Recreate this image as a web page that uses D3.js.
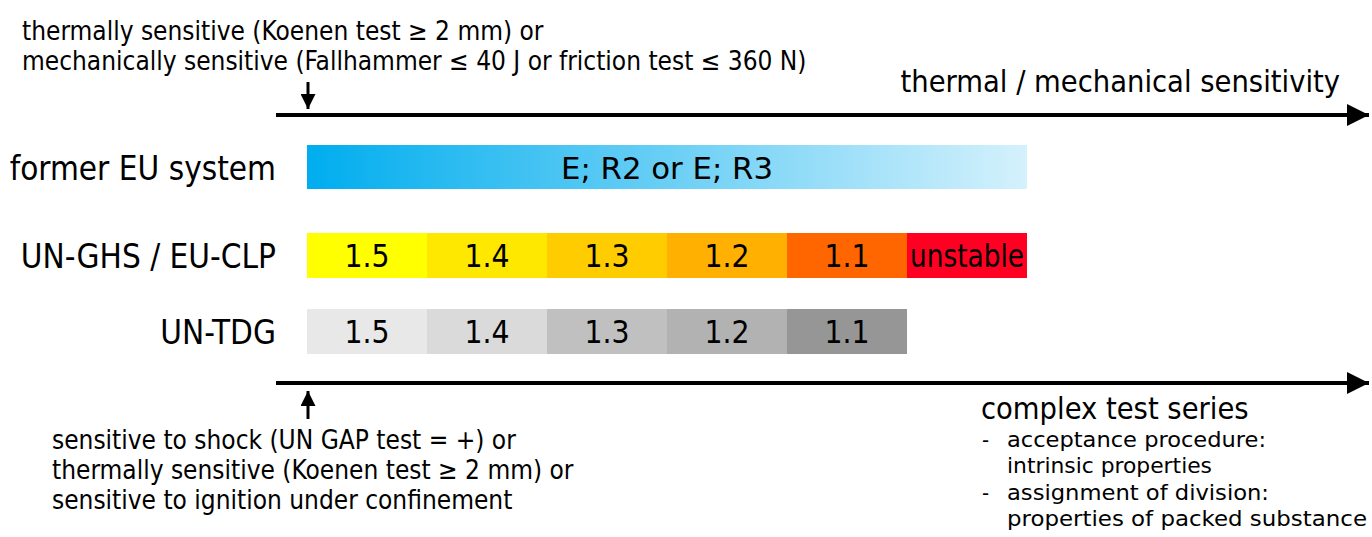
<!DOCTYPE html>
<html>
<head>
<meta charset="utf-8">
<script src="https://cdn.jsdelivr.net/npm/d3@7"></script>
<style>
  body { margin: 0; background: #fff; }
  svg { display: block; font-family: "DejaVu Sans Condensed", "DejaVu Sans", sans-serif; }
</style>
</head>
<body>
<div id="chart"></div>
<script>
// rows of the classification scheme
const rows = ['former EU system', 'UN-GHS / EU-CLP', 'UN-TDG'];

// former EU system: one band over the whole range
const euLabel = 'E; R2 or E; R3';
const euSpan = [0, 6];
const euColors = ['#00adee', '#d4f1fc'];

// UN-GHS / EU-CLP divisions
const ghsLabels = ['1.5', '1.4', '1.3', '1.2', '1.1', 'unstable'];
const ghsColors = ['#ffff00', '#ffe800', '#ffcc00', '#ffb000', '#ff6600', '#ff0022'];

// UN-TDG divisions
const tdgLabels = ['1.5', '1.4', '1.3', '1.2', '1.1'];
const tdgColors = ['#e8e8e8', '#dadada', '#c0c0c0', '#b2b2b2', '#969696'];

const topNote = [
  'thermally sensitive (Koenen test \u2265 2 mm) or',
  'mechanically sensitive (Fallhammer \u2264 40 J or friction test \u2264 360 N)'
];
const bottomNote = [
  'sensitive to shock (UN GAP test = +) or',
  'thermally sensitive (Koenen test \u2265 2 mm) or',
  'sensitive to ignition under confinement'
];
const complexTitle = 'complex test series';
const complexItems = [
  ['acceptance procedure:', 'intrinsic properties'],
  ['assignment of division:', 'properties of packed substance']
];
// widths the item lines take in the original (Tahoma) layout
const complexWidths = [[259, 205], [262, 360]];
const topAxisTitle = 'thermal / mechanical sensitivity';

const width = 1372, height = 537;

const svg = d3.select('#chart').append('svg')
    .attr('width', width)
    .attr('height', height);

const x = d3.scaleLinear().domain([0, 6]).range([307, 1027]);
const y = d3.scaleOrdinal().domain(rows).range([145, 233, 309]);
const bandH = 45;

const defs = svg.append('defs');
// big arrow head
defs.append('marker')
    .attr('id', 'head')
    .attr('viewBox', '0 0 10 10')
    .attr('refX', 10).attr('refY', 5)
    .attr('markerWidth', 5.5).attr('markerHeight', 5.5)
    .attr('markerUnits', 'strokeWidth')
    .attr('orient', 'auto')
  .append('path')
    .attr('d', 'M0,0 L10,5 L0,10 Z')
    .attr('fill', '#000');
// small arrow head
defs.append('marker')
    .attr('id', 'head-sm')
    .attr('viewBox', '0 0 10 10')
    .attr('refX', 10).attr('refY', 5)
    .attr('markerWidth', 15).attr('markerHeight', 15)
    .attr('markerUnits', 'userSpaceOnUse')
    .attr('orient', 'auto')
  .append('path')
    .attr('d', 'M0,0 L10,5 L0,10 Z')
    .attr('fill', '#000');

const grad = defs.append('linearGradient')
    .attr('id', 'eu-grad')
    .attr('x1', '0%').attr('x2', '100%');
grad.append('stop').attr('offset', '0%').attr('stop-color', euColors[0]);
grad.append('stop').attr('offset', '100%').attr('stop-color', euColors[1]);

// axes
const axes = svg.append('g').attr('class', 'axes');
[115, 383].forEach(yy => {
  axes.append('line')
      .attr('x1', 276).attr('x2', 1369)
      .attr('y1', yy).attr('y2', yy)
      .attr('stroke', '#000')
      .attr('stroke-width', 4)
      .attr('marker-end', 'url(#head)');
});

// small arrows marking the start of the range
const small = svg.append('g').attr('class', 'small-arrows');
small.append('line')
    .attr('x1', x(0) + 1).attr('x2', x(0) + 1)
    .attr('y1', 82).attr('y2', 109)
    .attr('stroke', '#000').attr('stroke-width', 3)
    .attr('marker-end', 'url(#head-sm)');
small.append('line')
    .attr('x1', x(0) + 1).attr('x2', x(0) + 1)
    .attr('y1', 419).attr('y2', 391)
    .attr('stroke', '#000').attr('stroke-width', 3)
    .attr('marker-end', 'url(#head-sm)');

// row labels
svg.append('g').attr('class', 'row-labels')
  .selectAll('text')
  .data(rows)
  .join('text')
    .attr('x', 276)
    .attr('y', d => y(d) + bandH / 2 + 12)
    .attr('text-anchor', 'end')
    .attr('font-size', 33)
    .attr('fill', '#000')
    .text(d => d);

// former EU band
const eu = svg.append('g').attr('class', 'eu');
eu.append('rect')
    .attr('x', x(euSpan[0]))
    .attr('y', y(rows[0]))
    .attr('width', x(euSpan[1]) - x(euSpan[0]))
    .attr('height', bandH - 1)
    .attr('fill', 'url(#eu-grad)');
eu.append('text')
    .attr('x', (x(euSpan[0]) + x(euSpan[1])) / 2)
    .attr('y', y(rows[0]) + bandH / 2 + 11)
    .attr('text-anchor', 'middle')
    .attr('font-size', 31)
    .attr('textLength', 212)
    .attr('lengthAdjust', 'spacingAndGlyphs')
    .text(euLabel);

function divisions(cls, labels, colors, row) {
  const g = svg.append('g').attr('class', cls)
    .selectAll('g')
    .data(labels)
    .join('g');
  g.append('rect')
      .attr('x', (d, i) => x(i))
      .attr('y', y(row))
      .attr('width', (d, i) => x(i + 1) - x(i))
      .attr('height', bandH)
      .attr('fill', (d, i) => colors[i]);
  g.append('text')
      .attr('x', (d, i) => (x(i) + x(i + 1)) / 2)
      .attr('y', y(row) + bandH / 2 + 11)
      .attr('text-anchor', 'middle')
      .attr('font-size', 31.5)
      .attr('fill', '#000')
      .each(function(d) {
        if (d.length > 4) {
          d3.select(this)
              .attr('textLength', 114)
              .attr('lengthAdjust', 'spacingAndGlyphs');
        }
      })
      .text(d => d);
}
divisions('ghs', ghsLabels, ghsColors, rows[1]);
divisions('tdg', tdgLabels, tdgColors, rows[2]);

// notes
svg.append('text')
    .attr('x', 1340).attr('y', 92)
    .attr('text-anchor', 'end')
    .attr('font-size', 30.5)
    .text(topAxisTitle);

svg.append('g').selectAll('text')
  .data(topNote)
  .join('text')
    .attr('x', 22)
    .attr('y', (d, i) => 40 + i * 30)
    .attr('font-size', 26)
    .text(d => d);

svg.append('g').selectAll('text')
  .data(bottomNote)
  .join('text')
    .attr('x', 52)
    .attr('y', (d, i) => 449 + i * 30)
    .attr('font-size', 26)
    .text(d => d);

const cx = 981;
svg.append('text')
    .attr('x', cx).attr('y', 419)
    .attr('font-size', 30.5)
    .text(complexTitle);

const items = svg.append('g').attr('class', 'complex');
complexItems.forEach((it, i) => {
  const base = 447 + i * 53;
  items.append('text').attr('x', cx + 1).attr('y', base).attr('font-size', 22).text('-');
  it.forEach((line, j) => {
    items.append('text')
        .attr('x', cx + 26)
        .attr('y', base + j * 26)
        .attr('font-size', 22)
        .attr('textLength', complexWidths[i][j])
        .attr('lengthAdjust', 'spacingAndGlyphs')
        .text(line);
  });
});
</script>
</body>
</html>
